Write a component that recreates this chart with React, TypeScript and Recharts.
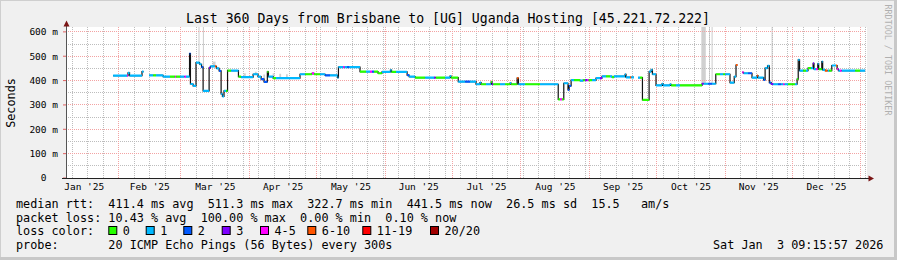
import React from 'react';
import { ComposedChart, Line, XAxis, YAxis, ReferenceLine, ReferenceArea } from 'recharts';

const W = 897;
const H = 260;
const FONT = "'DejaVu Sans Mono', monospace";

// Day 0 of the x axis (360 days shown)
const START = Date.UTC(2025, 0, 8, 7);
const X_DOMAIN_DAYS = 360;
const END_DAY = 359.6;

const TITLE = 'Last 360 Days from Brisbane to [UG] Uganda Hosting [45.221.72.222]';
const Y_TICKS = [0, 100, 200, 300, 400, 500, 600];
const Y_MINOR = [50, 150, 250, 350, 450, 550];
const MONTH_LABELS = ["Jan '25", "Feb '25", "Mar '25", "Apr '25", "May '25", "Jun '25", "Jul '25", "Aug '25", "Sep '25", "Oct '25", "Nov '25", "Dec '25"];

const LOSS_LABELS = ['0', '1', '2', '3', '4-5', '6-10', '11-19', '20/20'];
const LOSS_COLORS = ['#26ff00', '#00b8ff', '#0059ff', '#7e00ff', '#ff00ff', '#ff5500', '#ff0000', '#a10000'];

// median rtt steps: day (from START), median (ms), loss class index
const STEP_DAY = [
  21.2, 27.5, 27.9, 28.6, 34.2, 34.9, 37.4, 39.2, 40.5, 43.7,
  46.8, 49.1, 49.5, 51.3, 53.3, 54.0, 55.6, 56.0, 57.2, 58.5,
  60.1, 61.0, 61.7, 64.4, 65.0, 67.1, 67.7, 68.9, 69.8, 70.4,
  71.1, 72.0, 72.7, 74.3, 77.6, 78.8, 84.2, 86.4, 87.8, 89.1,
  90.6, 91.1, 93.2, 94.5, 105.3, 107.6, 110.7, 111.6, 114.3, 116.6,
  118.8, 122.2, 122.6, 124.7, 125.3, 126.5, 127.4, 132.3, 135.0, 136.8,
  137.7, 138.6, 140.4, 142.2, 146.0, 146.5, 148.5, 153.5, 154.4, 157.1,
  161.6, 165.6, 166.3, 170.6, 172.8, 173.3, 176.5, 179.6, 181.8, 184.5,
  186.3, 186.8, 189.0, 191.3, 191.7, 192.2, 195.3, 197.6, 199.8, 200.3,
  203.0, 203.6, 206.6, 213.3, 221.5, 222.3, 223.2, 224.0, 225.9, 226.4,
  227.3, 228.6, 231.3, 232.7, 233.6, 234.5, 235.1, 236.7, 238.5, 240.3,
  241.2, 243.0, 244.8, 245.7, 246.6, 251.6, 252.0, 253.8, 254.3, 255.6,
  257.4, 258.3, 259.4, 262.4, 263.3, 263.9, 265.5, 268.2, 268.7, 271.8,
  272.3, 274.5, 276.3, 286.2, 286.9, 288.9, 290.7, 292.4, 294.3, 295.7,
  296.6, 298.8, 300.7, 301.5, 302.2, 304.3, 304.9, 306.9, 308.7, 311.0,
  311.4, 313.9, 314.6, 315.7, 316.5, 317.3, 318.2, 320.4, 321.8, 322.7,
  323.3, 324.9, 328.1, 329.0, 329.5, 330.1, 331.7, 333.0, 333.9, 335.3,
  336.2, 336.6, 337.5, 338.3, 338.7, 340.1, 340.5, 341.6, 342.7, 343.4,
  344.6, 346.5, 347.0, 347.6, 348.3, 349.0, 355.1, 357.3,
];
const STEP_MEDIAN: (number | null)[] = [
  420, 420, 432, 420, 437, null, 421, 421, 421, 416,
  416, 416, 416, 416, 416, 416, 511, 386, 378, 474,
  467, 455, 358, 452, 458, 458, 450, 440, 345, 335,
  358, 358, 441, 441, 416, 414, 426, 416, 406, 395,
  436, 416, 410, 410, 426, 426, 430, 426, 426, 421,
  421, 412, 455, 455, 455, 455, 455, 437, 437, 437,
  437, 437, 430, 436, 443, 436, 436, 422, 416, 412,
  412, 412, 412, 412, 418, 412, 396, 396, 396, 385,
  392, 385, 385, 395, 385, 385, 385, 385, 390, 385,
  410, 385, 385, 385, 323, 323, 323, 389, 362, 378,
  402, 402, 400, 402, 402, 402, 402, 402, 410, 410,
  417, 417, 417, 414, 417, 426, 413, 413, 413, null,
  412, 412, 321, 437, 444, 426, 380, 387, 380, 385,
  380, 380, 380, 387, 387, 387, 387, 426, 426, 426,
  426, 392, 416, 464, null, 434, 430, 430, 412, 420,
  412, 403, 451, 460, 392, 386, 385, 385, 385, 385,
  385, 385, 385, 406, 485, 441, 441, 441, 451, 451,
  471, 447, 447, 469, 447, 478, 444, 441, 441, 441,
  462, 462, 447, 441, 441, 441, 441, 441,
];
const STEP_LOSS = [
  1, 4, 1, 1, 1, 0, 1, 0, 1, 1,
  0, 4, 0, 1, 4, 1, 2, 1, 1, 1,
  1, 2, 1, 3, 1, 5, 1, 2, 1, 1,
  1, 0, 0, 1, 0, 1, 1, 1, 2, 2,
  0, 1, 0, 1, 1, 0, 4, 0, 1, 2,
  1, 1, 1, 4, 1, 2, 1, 0, 1, 4,
  2, 0, 0, 1, 1, 0, 1, 2, 1, 0,
  1, 3, 0, 1, 1, 0, 1, 2, 1, 1,
  1, 0, 1, 0, 3, 0, 1, 0, 1, 0,
  5, 1, 0, 1, 0, 4, 0, 1, 2, 2,
  1, 0, 1, 0, 3, 4, 0, 1, 1, 3,
  1, 0, 1, 0, 1, 1, 1, 5, 1, 0,
  1, 0, 0, 1, 1, 1, 1, 1, 1, 1,
  0, 1, 0, 3, 1, 2, 1, 0, 1, 0,
  1, 1, 1, 5, 0, 4, 1, 2, 1, 5,
  1, 2, 1, 1, 2, 3, 1, 2, 1, 4,
  1, 0, 1, 0, 1, 1, 0, 1, 0, 1,
  3, 1, 4, 1, 0, 1, 1, 5, 1, 0,
  1, 5, 4, 1, 4, 1, 0, 1,
];

// smoke (spread of individual pings): from day, to day, low ms, high ms
const SMOKE_FROM = [59.6, 61.6, 66.0, 80.0, 85.0, 88.8, 93.0, 96.0, 99.0, 285.9, 289.4, 290.5, 317.5];
const SMOKE_TO = [60.1, 62.1, 67.3, 80.9, 85.8, 89.6, 93.8, 96.8, 99.8, 287.9, 289.8, 291.0, 318.0];
const SMOKE_LO = [470, 455, 458, 414, 424, 400, 410, 410, 410, 388, 388, 388, 390];
const SMOKE_HI = [620, 620, 478, 430, 436, 425, 430, 428, 426, 620, 620, 620, 620];

const LEGEND_RTT = 'median rtt:  411.4 ms avg  511.3 ms max  322.7 ms min  441.5 ms now  26.5 ms sd  15.5   am/s';
const LEGEND_LOSS = 'packet loss: 10.43 % avg  100.00 % max  0.00 % min  0.10 % now';
const LEGEND_PROBE = 'probe:       20 ICMP Echo Pings (56 Bytes) every 300s';
const STAMP = 'Sat Jan  3 09:15:57 2026';

const dayOf = (y: number, m: number, d: number) => (Date.UTC(y, m, d) - START) / 86400000;

const MONTH_START_DAYS: number[] = [];
for (let m = 1; m <= 12; m++) MONTH_START_DAYS.push(dayOf(2025, m, 1));
const MONTH_MID_DAYS: number[] = MONTH_LABELS.map((_, m) => (dayOf(2025, m, 1) + dayOf(2025, m + 1, 1)) / 2);
const WEEK_DAYS: number[] = [];
for (let k = 0; k < 60; k++) {
  const d = dayOf(2025, 0, 11 + 7 * k);
  if (d > X_DOMAIN_DAYS) break;
  if (!MONTH_START_DAYS.some((s) => Math.abs(s - d) < 0.01)) WEEK_DAYS.push(d);
}

type Pt = { d: number; v: number | null };
const blackPts: Pt[] = [];
const colorPts: Pt[][] = LOSS_COLORS.map(() => []);
for (let i = 0; i < STEP_DAY.length; i++) {
  const a = STEP_DAY[i];
  const b = i + 1 < STEP_DAY.length ? STEP_DAY[i + 1] : END_DAY;
  const v = STEP_MEDIAN[i];
  if (v == null) {
    blackPts.push({ d: a, v: null });
    continue;
  }
  blackPts.push({ d: a, v }, { d: b, v });
  colorPts[STEP_LOSS[i]].push({ d: a, v }, { d: b, v }, { d: b, v: null });
}

const fmtY = (v: number) => (v === 0 ? '0\u00a0\u00a0' : `${v} m`);
const monthLabel = (v: number) => {
  const i = MONTH_MID_DAYS.findIndex((m) => Math.abs(m - v) < 0.01);
  return i >= 0 ? MONTH_LABELS[i] : '';
};

const GRID_MINOR = '#bdbdbd';
const GRID_MAJOR = '#f3a3a3';

const BOX_X = [108.3, 145.7, 183.3, 221.7, 260, 307.3, 362.3, 430];
const BOX_LABEL_X = [122.8, 160.2, 197.8, 236.2, 274.5, 321.8, 376.8, 444.5];

export default function App() {
  return (
    <div style={{ position: 'absolute', left: 0, top: 0, width: W, height: H, background: '#f0f0f0', overflow: 'hidden' }}>
      <div style={{ position: 'absolute', left: 66, top: 27, width: 801, height: 151, background: '#ffffff' }} />
      <div style={{ position: 'absolute', left: 0, top: 0 }}>
        <ComposedChart width={W} height={H} margin={{ top: 27, right: 31, left: 16, bottom: 62 }}>
          <XAxis
            xAxisId={0}
            dataKey="d"
            type="number"
            domain={[0, X_DOMAIN_DAYS]}
            allowDataOverflow
            ticks={MONTH_START_DAYS}
            interval={0}
            tick={false}
            tickSize={3}
            tickLine={{ stroke: '#e06060' }}
            axisLine={false}
            height={0}
          />
          <XAxis
            xAxisId="lbl"
            dataKey="d"
            type="number"
            domain={[0, X_DOMAIN_DAYS]}
            allowDataOverflow
            ticks={MONTH_MID_DAYS}
            interval={0}
            tickFormatter={monthLabel}
            tickSize={0}
            tickMargin={5.5}
            tickLine={false}
            axisLine={false}
            height={20}
            tick={{ fontSize: 9.5, fill: '#000', fontFamily: FONT }}
          />
          <YAxis
            type="number"
            domain={[0, 620]}
            allowDataOverflow
            ticks={Y_TICKS}
            interval={0}
            width={50}
            axisLine={false}
            tickSize={3}
            tickMargin={5}
            tickLine={{ stroke: '#e06060' }}
            tickFormatter={fmtY}
            tick={{ fontSize: 9.5, fill: '#000', fontFamily: FONT }}
          />
          {Y_MINOR.map((y) => (
            <ReferenceLine key={`hm${y}`} y={y} stroke={GRID_MINOR} strokeDasharray="1 1" shapeRendering="crispEdges" />
          ))}
          {WEEK_DAYS.map((d) => (
            <ReferenceLine key={`w${d}`} x={d} stroke={GRID_MINOR} strokeDasharray="1 1" shapeRendering="crispEdges" />
          ))}
          {Y_TICKS.filter((y) => y > 0).map((y) => (
            <ReferenceLine key={`hM${y}`} y={y} stroke={GRID_MAJOR} strokeDasharray="1 1" shapeRendering="crispEdges" />
          ))}
          {MONTH_START_DAYS.map((d) => (
            <ReferenceLine key={`m${d}`} x={d} stroke={GRID_MAJOR} strokeDasharray="1 1" shapeRendering="crispEdges" />
          ))}
          {SMOKE_FROM.map((a, i) => (
            <ReferenceArea
              key={`s${i}`}
              x1={a}
              x2={SMOKE_TO[i]}
              y1={SMOKE_LO[i]}
              y2={SMOKE_HI[i]}
              fill="#d0d0d0"
              fillOpacity={1}
              stroke="none"
              ifOverflow="hidden"
            />
          ))}
          <Line
            data={blackPts}
            dataKey="v"
            type="linear"
            stroke="#111"
            strokeWidth={1.2}
            dot={false}
            activeDot={false}
            connectNulls={false}
            isAnimationActive={false}
          />
          {colorPts.map((pts, i) => (
            <Line
              key={`c${i}`}
              data={pts}
              dataKey="v"
              type="linear"
              stroke={LOSS_COLORS[i]}
              strokeWidth={2.2}
              dot={false}
              activeDot={false}
              connectNulls={false}
              isAnimationActive={false}
            />
          ))}
        </ComposedChart>
      </div>
      <svg width={W} height={H} style={{ position: 'absolute', left: 0, top: 0, pointerEvents: 'none' }} fontFamily={FONT}>
        {/* frame */}
        <line x1={0} y1={0.5} x2={W} y2={0.5} stroke="#cfcfcf" />
        <line x1={0.5} y1={0} x2={0.5} y2={H} stroke="#cfcfcf" />
        <rect x={0} y={H - 3} width={W} height={3} fill="#c8c8c8" />
        <rect x={W - 3} y={0} width={3} height={H} fill="#c8c8c8" />
        {/* axes */}
        <line x1={66.5} y1={178} x2={66.5} y2={24} stroke="#555" />
        <polygon points="63.5,26.5 69.5,26.5 66.5,20.5" fill="#7a1515" />
        <line x1={62} y1={178.5} x2={869} y2={178.5} stroke="#222" />
        <polygon points="868.5,175.5 868.5,181.5 874,178.5" fill="#7a1515" />
        {/* title */}
        <text x={448} y={23} textAnchor="middle" fontSize={13.2} fill="#000" style={{ whiteSpace: 'pre' }}>{TITLE}</text>
        <text transform="translate(15, 103) rotate(-90)" textAnchor="middle" fontSize={11.8} fill="#000">Seconds</text>
        <text transform="translate(884.5, 60) rotate(90)" textAnchor="middle" fontSize={8.4} fill="#b0b0b0">RRDTOOL / TOBI OETIKER</text>
        {/* legend */}
        <text x={16} y={208.3} fontSize={11.8} fill="#000" style={{ whiteSpace: 'pre' }}>{LEGEND_RTT}</text>
        <text x={16} y={221.7} fontSize={11.8} fill="#000" style={{ whiteSpace: 'pre' }}>{LEGEND_LOSS}</text>
        <text x={16} y={235} fontSize={11.8} fill="#000" style={{ whiteSpace: 'pre' }}>loss color:</text>
        {LOSS_LABELS.map((lab, i) => (
          <g key={lab}>
            <rect x={BOX_X[i] + 0.5} y={226.5} width={8} height={8} fill={LOSS_COLORS[i]} stroke="#000" strokeWidth={1} />
            <text x={BOX_LABEL_X[i]} y={235} fontSize={11.8} fill="#000">{lab}</text>
          </g>
        ))}
        <text x={16} y={248.5} fontSize={11.8} fill="#000" style={{ whiteSpace: 'pre' }}>{LEGEND_PROBE}</text>
        <text x={713} y={248.5} fontSize={11.8} fill="#000" style={{ whiteSpace: 'pre' }}>{STAMP}</text>
      </svg>
    </div>
  );
}
